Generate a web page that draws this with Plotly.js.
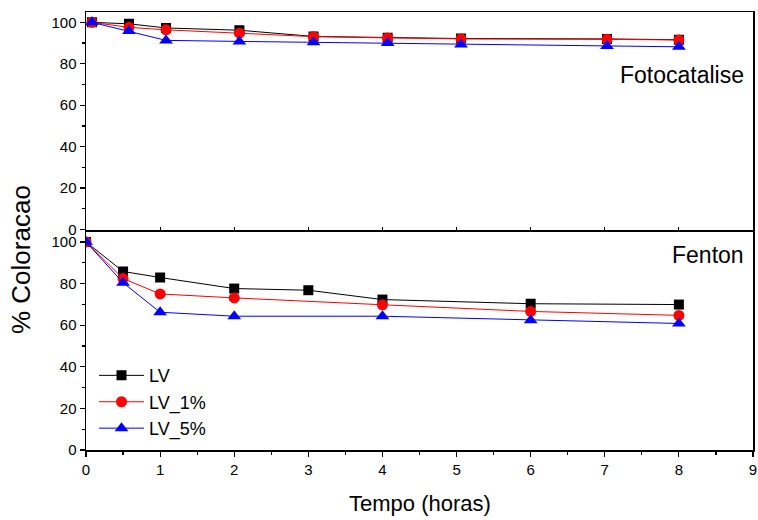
<!DOCTYPE html>
<html>
<head>
<meta charset="utf-8">
<script src="https://cdn.plot.ly/plotly-3.0.1.min.js"></script>
<style>html,body{margin:0;padding:0;background:#fff;}#chart{width:758px;height:520px;}</style>
</head>
<body>
<div id="chart"></div>
<script>
// Top panel (Fotocatalise)
const foto_x = [0.08, 0.58, 1.08, 2.07, 3.07, 4.07, 5.06, 7.03, 8.0];
const foto_LV = [100, 99.3, 97.3, 96.2, 93.2, 92.6, 92.2, 92.0, 91.6];
const foto_LV1 = [100, 97.6, 96.4, 94.8, 93.1, 92.5, 92.0, 91.8, 91.5];
const foto_LV5 = [100, 95.8, 91.3, 90.8, 90.4, 90.0, 89.3, 88.6, 88.2];

// Bottom panel (Fenton)
const fenton_x_LV = [0, 0.5, 1, 2, 3, 4, 6, 8];
const fenton_LV = [100, 85.8, 82.9, 77.6, 76.8, 72.3, 70.3, 69.9];
const fenton_x_5 = [0, 0.5, 1, 2, 4, 6, 8];
const fenton_LV1 = [100, 82.4, 75.0, 73.1, 69.8, 66.6, 64.7];
const fenton_LV5 = [100, 80.4, 66.2, 64.3, 64.3, 62.4, 60.8];

const seriesNames = ["LV", "LV_1%", "LV_5%"];
const colors = ["#000000", "#ff0000", "#0000ff"];
const symbols = ["square", "circle", "triangle-up"];
const sizes = [10, 11, 12];

const traces = [];
const fotoY = [foto_LV, foto_LV1, foto_LV5];
const fentonX = [fenton_x_LV, fenton_x_5, fenton_x_5];
const fentonY = [fenton_LV, fenton_LV1, fenton_LV5];
for (let i = 0; i < 3; i++) {
  traces.push({
    x: foto_x, y: fotoY[i], xaxis: 'x2', yaxis: 'y2', type: 'scatter', mode: 'lines+markers',
    name: seriesNames[i], showlegend: false,
    line: {color: colors[i], width: 1},
    marker: {symbol: symbols[i], size: sizes[i], color: colors[i]}
  });
}
for (let i = 0; i < 3; i++) {
  traces.push({
    x: fentonX[i], y: fentonY[i], xaxis: 'x', yaxis: 'y', type: 'scatter', mode: 'lines+markers',
    name: seriesNames[i], showlegend: true,
    line: {color: colors[i], width: 1},
    marker: {symbol: symbols[i], size: sizes[i], color: colors[i]}
  });
}

const REG = 'Liberation Sans, Arial, sans-serif';
const tickFont = {family: REG, size: 15, color: '#000'};
const yCommon = {
  range: [0, 105], tickvals: [0, 20, 40, 60, 80, 100], ticks: 'outside', ticklen: 5, tickwidth: 1.2,
  tickcolor: '#000', showgrid: false, zeroline: false, showline: true, linecolor: '#000', linewidth: 1.5,
  mirror: true, tickfont: tickFont,
  minor: {dtick: 10, tick0: 0, ticks: 'outside', ticklen: 3, tickcolor: '#000', showgrid: false}
};

const layout = {
  width: 758, height: 520,
  margin: {l: 86, r: 5, t: 12, b: 70},
  paper_bgcolor: '#fff', plot_bgcolor: '#fff',
  font: {family: REG, color: '#000'},
  xaxis: {
    domain: [0, 1], anchor: 'y', range: [0, 9], dtick: 1, tick0: 0, ticks: 'outside', ticklen: 5, tickwidth: 1.2,
    tickcolor: '#000', showgrid: false, zeroline: false, showline: true, linecolor: '#000', linewidth: 1.5,
    mirror: true, tickfont: tickFont,
    minor: {dtick: 0.5, tick0: 0, ticks: 'outside', ticklen: 3, tickcolor: '#000', showgrid: false}
  },
  yaxis: Object.assign({domain: [0, 0.4988], anchor: 'x'}, yCommon),
  xaxis2: {
    domain: [0, 1], anchor: 'y2', range: [0, 9], dtick: 1, ticks: 'inside', ticklen: 3, tickcolor: '#000',
    showticklabels: false, showgrid: false, zeroline: false, showline: true, linecolor: '#000', linewidth: 1.5,
    mirror: true
  },
  yaxis2: Object.assign({domain: [0.5034, 1], anchor: 'x2'}, yCommon),
  legend: {
    x: 0.012, y: 0.212, xanchor: 'left', yanchor: 'top', bgcolor: 'rgba(0,0,0,0)',
    font: {family: REG, size: 18, color: '#000'},
    itemwidth: 45, tracegroupgap: 0
  },
  annotations: [
    {text: 'Fotocatalise', xref: 'paper', yref: 'paper', x: 0.99, y: (450 - 75) / 438,
     xanchor: 'right', yanchor: 'middle', showarrow: false,
     font: {family: REG, size: 23, color: '#000'}},
    {text: 'Fenton', xref: 'paper', yref: 'paper', x: 0.99, y: (450 - 255) / 438,
     xanchor: 'right', yanchor: 'middle', showarrow: false,
     font: {family: REG, size: 23, color: '#000'}},
    {text: '% Coloracao', xref: 'paper', yref: 'paper', x: (21 - 86) / 667, y: (450 - 260) / 438,
     xanchor: 'center', yanchor: 'middle', textangle: -90, showarrow: false,
     font: {family: REG, size: 26, color: '#000'}},
    {text: 'Tempo (horas)', xref: 'paper', yref: 'paper', x: 0.5, y: (450 - 503) / 438,
     xanchor: 'center', yanchor: 'middle', showarrow: false,
     font: {family: REG, size: 22, color: '#000'}}
  ]
};

Plotly.newPlot('chart', traces, layout, {displayModeBar: false, staticPlot: true});
</script>
</body>
</html>
